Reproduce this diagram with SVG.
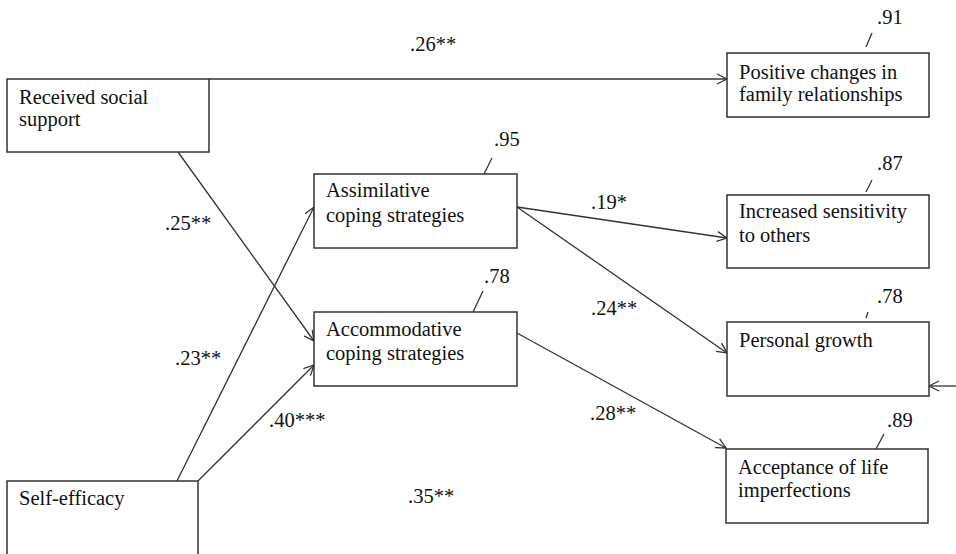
<svg xmlns="http://www.w3.org/2000/svg" width="956" height="554" viewBox="0 0 956 554">
<defs>
<marker id="arr" markerUnits="userSpaceOnUse" markerWidth="14" markerHeight="12" refX="11" refY="6" orient="auto">
<path d="M1,1 L11,6 L1,11" fill="none" stroke="#333" stroke-width="1.3"/>
</marker>
<style>
.box{fill:#fff;stroke:#333;stroke-width:1.5}
.t{font-family:"Liberation Serif","Times New Roman",serif;font-size:20.5px;fill:#111}
.c{fill:none;stroke:#333;stroke-width:1.3}
.a{fill:none;stroke:#333;stroke-width:1.3;marker-end:url(#arr)}
</style>
</defs>
<rect width="956" height="554" fill="#fff"/>
<g id="connectors">
<path class="a" d="M209,79 L727,79"/>
<path class="a" d="M178,152 L314,341"/>
<path class="a" d="M177,481 L314,207"/>
<path class="a" d="M198,481 L314,365"/>
<path class="a" d="M517,207 L727,238"/>
<path class="a" d="M517,207 L727,353"/>
<path class="a" d="M517,333 L726,448"/>
<path class="a" d="M956,386 L929,386"/>
<path class="c" d="M484,174 L492,158"/>
<path class="c" d="M473,312 L483,291"/>
<path class="c" d="M866,47 L872,33"/>
<path class="c" d="M866,192 L872,180"/>
<path class="c" d="M866,318 L868,312"/>
<path class="c" d="M876,449 L884,434"/>
</g>
<g id="labels">
<text class="t" x="410" y="51">.26**</text>
<text class="t" x="165" y="230">.25**</text>
<text class="t" x="175" y="365">.23**</text>
<text class="t" x="269" y="427">.40***</text>
<text class="t" x="591" y="209">.19*</text>
<text class="t" x="591" y="315">.24**</text>
<text class="t" x="590" y="420">.28**</text>
<text class="t" x="408" y="503">.35**</text>
<text class="t" x="494" y="146">.95</text>
<text class="t" x="484" y="283">.78</text>
<text class="t" x="877" y="24">.91</text>
<text class="t" x="877" y="170">.87</text>
<text class="t" x="877" y="303">.78</text>
<text class="t" x="887" y="427">.89</text>
</g>
<g id="received-social-support">
<rect class="box" x="7" y="79" width="202" height="73"/>
<text class="t" x="19" y="104">Received social</text>
<text class="t" x="19" y="126">support</text>
</g>
<g id="self-efficacy">
<rect class="box" x="7" y="481" width="191" height="80"/>
<text class="t" x="19" y="505">Self-efficacy</text>
</g>
<g id="assimilative">
<rect class="box" x="314" y="174" width="203" height="74"/>
<text class="t" x="326" y="197">Assimilative</text>
<text class="t" x="326" y="222">coping strategies</text>
</g>
<g id="accommodative">
<rect class="box" x="314" y="312" width="203" height="74"/>
<text class="t" x="326" y="336">Accommodative</text>
<text class="t" x="326" y="360">coping strategies</text>
</g>
<g id="positive-changes">
<rect class="box" x="727" y="53" width="202" height="64"/>
<text class="t" x="739" y="79">Positive changes in</text>
<text class="t" x="739" y="101">family relationships</text>
</g>
<g id="increased-sensitivity">
<rect class="box" x="727" y="195" width="202" height="73"/>
<text class="t" x="739" y="218">Increased sensitivity</text>
<text class="t" x="739" y="242">to others</text>
</g>
<g id="personal-growth">
<rect class="box" x="727" y="322" width="202" height="74"/>
<text class="t" x="739" y="347">Personal growth</text>
</g>
<g id="acceptance">
<rect class="box" x="726" y="449" width="202" height="74"/>
<text class="t" x="738" y="474">Acceptance of life</text>
<text class="t" x="738" y="497">imperfections</text>
</g>
</svg>
